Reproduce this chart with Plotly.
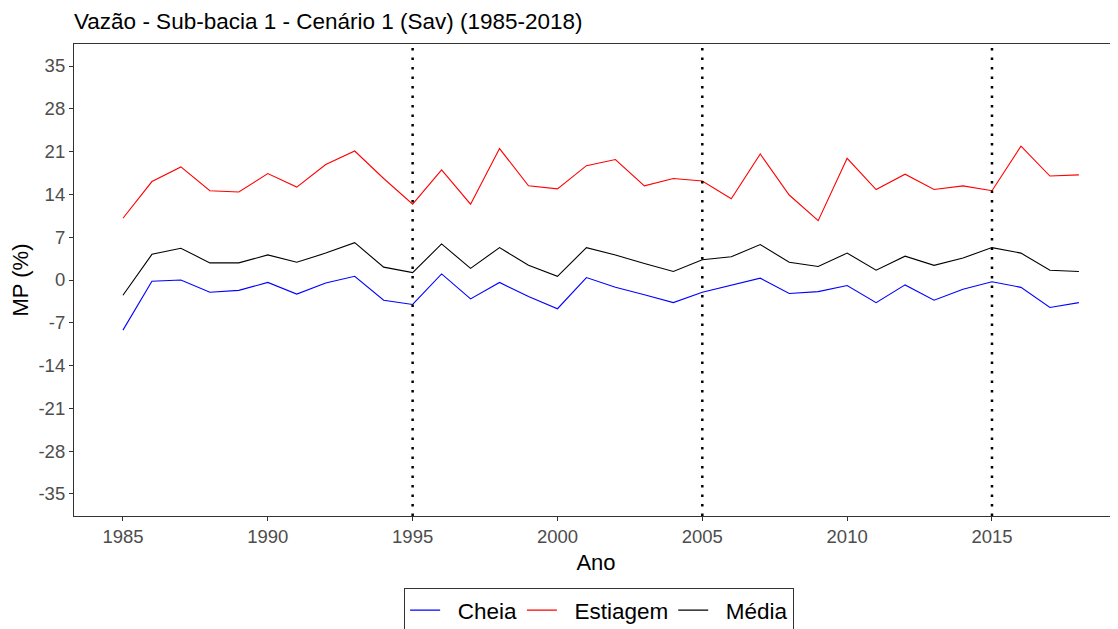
import plotly.graph_objects as go

anos = list(range(1985, 2019))

cheia = [-8.2, -0.2, 0.0, -2.0, -1.7, -0.4, -2.3, -0.5, 0.6, -3.3,
         -4.0, 1.0, -3.1, -0.4, -2.7, -4.7, 0.4, -1.2, -2.4, -3.7,
         -2.0, -0.8, 0.3, -2.2, -1.9, -0.9, -3.7, -0.8, -3.3, -1.5,
         -0.3, -1.2, -4.5, -3.7]

estiagem = [10.1, 16.1, 18.5, 14.6, 14.4, 17.4, 15.2, 18.9, 21.1, 16.6,
            12.4, 18.0, 12.4, 21.5, 15.4, 14.9, 18.7, 19.7, 15.4, 16.6,
            16.2, 13.3, 20.6, 13.9, 9.7, 19.9, 14.8, 17.3, 14.8, 15.4,
            14.6, 21.9, 17.0, 17.2]

media = [-2.5, 4.2, 5.2, 2.8, 2.8, 4.1, 2.9, 4.4, 6.1, 2.1,
         1.2, 5.9, 1.9, 5.3, 2.4, 0.6, 5.3, 4.1, 2.7, 1.4,
         3.3, 3.8, 5.8, 2.9, 2.2, 4.4, 1.6, 3.9, 2.4, 3.6,
         5.3, 4.4, 1.6, 1.4]

marcos = [1995, 2005, 2015]
y_ticks = list(range(-35, 36, 7))
x_ticks = list(range(1985, 2016, 5))

fonte = "Liberation Sans, Arial, sans-serif"
nbsp = "\u00a0"

# o body da página tem 8 px de margem, por isso a figura é 8 px menor
W, H = 1110, 621

fig = go.Figure()
for nome, valores, cor in [("Cheia", cheia, "#0000FF"),
                           ("Estiagem", estiagem, "#FF0000"),
                           ("Média", media, "#000000")]:
    fig.add_trace(go.Scatter(x=anos, y=valores, mode="lines",
                             name=nbsp * 2 + nome,
                             line=dict(color=cor, width=1.1)))

for ano in marcos:
    fig.add_vline(x=ano, line=dict(color="black", width=2.5, dash="2.5px,7px"))

fig.update_layout(
    width=W, height=H,
    paper_bgcolor="white", plot_bgcolor="white",
    margin=dict(l=66, r=0, t=36, b=113),
    font=dict(family=fonte, color="black"),
    title=dict(text="Vazão - Sub-bacia 1 - Cenário 1 (Sav) (1985-2018)",
               xref="paper", x=0, xanchor="left",
               y=1 - 13.5 / H, yanchor="middle",
               font=dict(size=22.5, color="black")),
    showlegend=True,
    # legenda presa ao container para não empurrar a margem de baixo
    legend=dict(orientation="h", x=0.503, xanchor="center",
                yref="container", y=1 - 580 / H, yanchor="top",
                bordercolor="#333333", borderwidth=1,
                font=dict(size=22.5, color="black"),
                itemwidth=30, tracegroupgap=0),
)

fig.update_xaxes(
    range=[1983.31, 2019.35], automargin=False,
    tickvals=x_ticks, ticktext=[str(v) for v in x_ticks],
    ticks="outside", ticklen=4, tickcolor="#333333",
    tickfont=dict(size=18.5, color="#4D4D4D"),
    showgrid=False, zeroline=False,
    showline=True, linecolor="#333333", linewidth=1.2, mirror=True,
    title=dict(text="Ano", font=dict(size=22, color="black"), standoff=8),
)
fig.update_yaxes(
    range=[-38.6, 38.6], automargin=False,
    tickvals=y_ticks, ticktext=[str(v) for v in y_ticks],
    ticks="outside", ticklen=4, tickcolor="#333333",
    tickfont=dict(size=18.5, color="#4D4D4D"),
    showgrid=False, zeroline=False,
    showline=True, linecolor="#333333", linewidth=1.2, mirror=False,
    title=dict(text="MP (%)", font=dict(size=22, color="black"), standoff=6),
)

fig.write_html("out.html")
